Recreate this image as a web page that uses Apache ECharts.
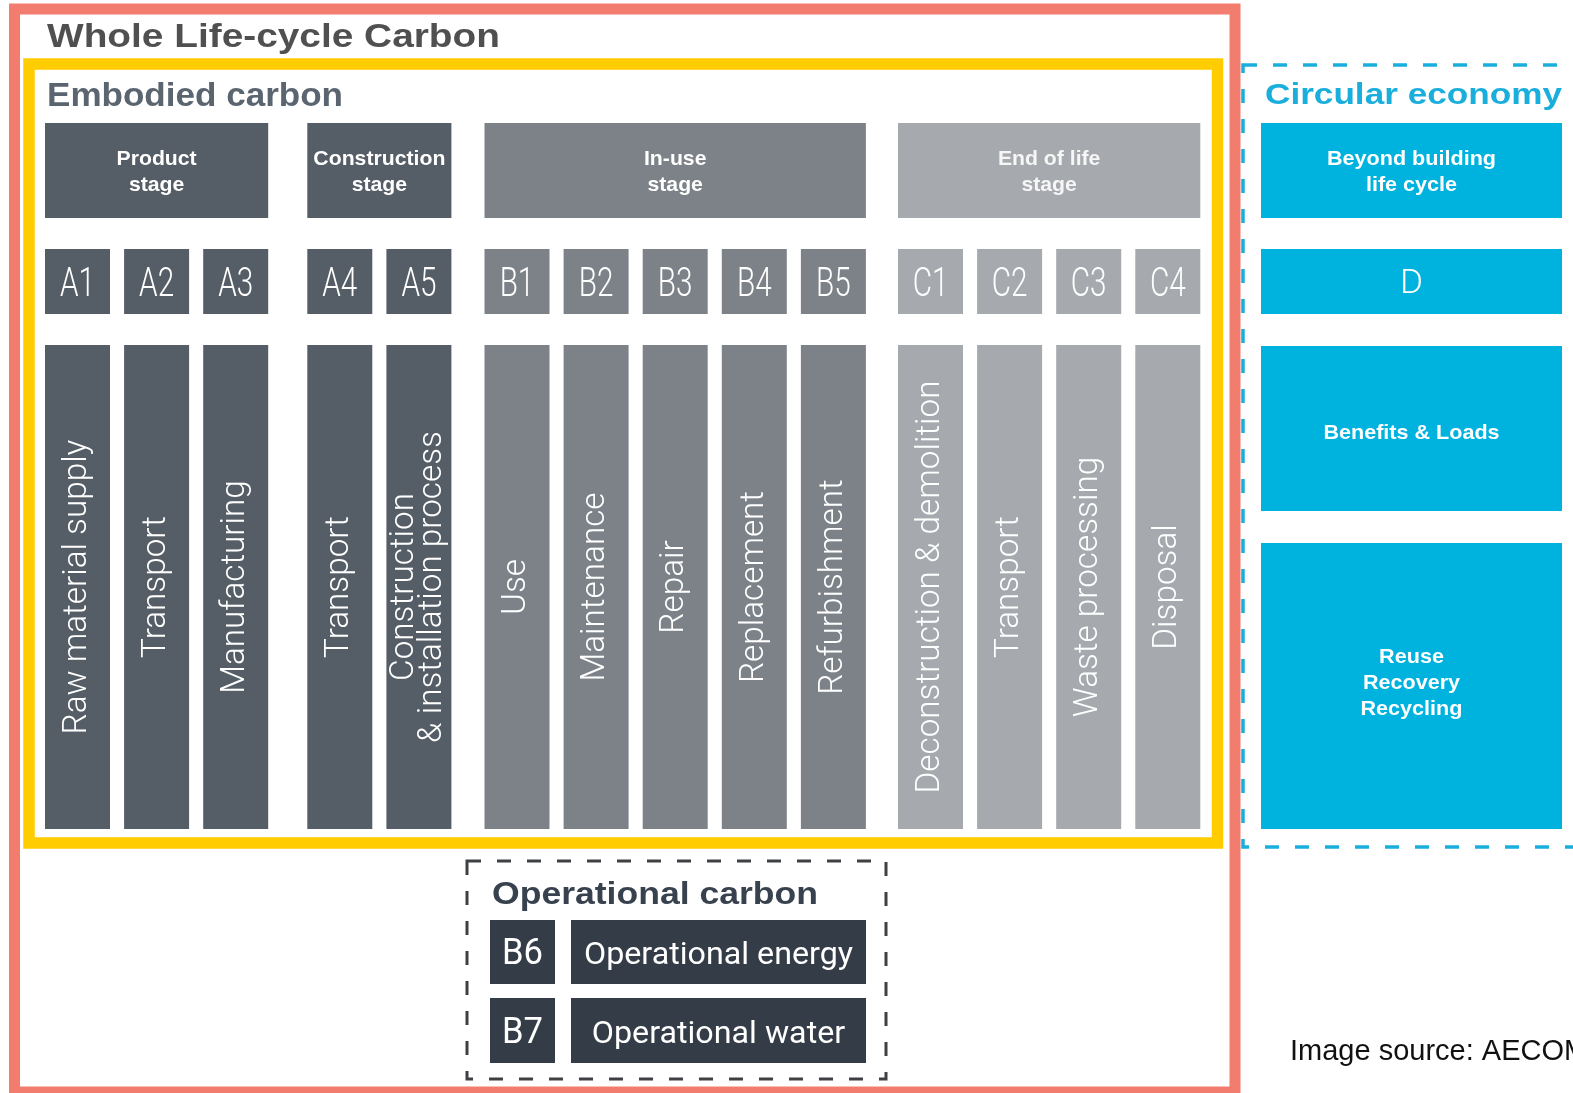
<!DOCTYPE html>
<html>
<head>
<meta charset="utf-8">
<script src="https://cdn.jsdelivr.net/npm/echarts@6/dist/echarts.min.js"></script>
<style>
html,body{margin:0;padding:0;background:#ffffff;overflow:hidden}
#chart{width:1573px;height:1093px}
</style>
</head>
<body>
<div id="chart"></div>
<script>
// ---------------- data ----------------
const stageNames = ['Product\nstage', 'Construction\nstage', 'In-use\nstage', 'End of life\nstage'];
const moduleCodes = ['A1','A2','A3','A4','A5','B1','B2','B3','B4','B5','C1','C2','C3','C4'];
const moduleStage = [0,0,0,1,1,2,2,2,2,2,3,3,3,3];
const moduleNames = ['Raw material supply','Transport','Manufacturing','Transport',
  'Construction\n& installation process','Use','Maintenance','Repair','Replacement',
  'Refurbishment','Deconstruction & demolition','Transport','Waste processing','Disposal'];
const circularLabels = ['Beyond building\nlife cycle', 'D', 'Benefits & Loads', 'Reuse\nRecovery\nRecycling'];
const operationalCodes = ['B6', 'B7'];
const operationalNames = ['Operational energy', 'Operational water'];
const frameTitles = ['Whole Life-cycle Carbon', 'Embodied carbon', 'Circular economy', 'Operational carbon'];
const sourceNote = 'Image source: AECOM';

// ---------------- layout & style ----------------
const W = 1573, H = 1093;
const colX0 = 45, colPitch = 79.1, colW = 65;
const stageOffset = [0, 25, 44, 62];
const rowHeader = [123, 218], rowCode = [249, 314], rowName = [345, 829];
const circX = [1261, 1562];
const circRows = [[123, 218], [249, 314], [346, 511], [543, 829]];
const circDy = [2, 3, 5, -3];
const opCodeX = [490, 555], opNameX = [571, 866];
const opRows = [[920, 984], [998, 1063]];
const stageColors = ['#555D66', '#555D66', '#7D8289', '#A6A9AD'];
const cyan = '#00B2DE';
const opColor = '#343D47';

const frames = [
  {r: [14.5, 9, 1235, 1092], color: '#F27C6E', lw: 11, dash: null},
  {r: [29, 64, 1217.5, 843], color: '#FFCC00', lw: 11.5, dash: null},
  {r: [1243, 65, 1650, 847], color: '#1AAEDC', lw: 3.5, dash: [14, 16]},
  {r: [467, 861, 886, 1079], color: '#3E4044', lw: 3, dash: [14, 16]}
];
const titleStyles = [
  {x: 47, y: 38, font: 'bold 34px "Liberation Sans"', color: '#505050', w: 453},
  {x: 47, y: 97, font: 'bold 33px "Liberation Sans"', color: '#5B6570', w: 296},
  {x: 1265, y: 96, font: 'bold 30px "Liberation Sans"', color: '#1AAEDC', w: 297},
  {x: 492, y: 895, font: 'bold 32px "Liberation Sans"', color: '#38424E', w: 326}
];

const F_HEAD = 'bold 21px "Liberation Sans"';
const F_CODE = '300 40px Roboto';
const F_NAME = '300 33px Roboto';
const F_OPN = '32px Roboto';
const F_OPC = '36px Roboto';
const F_D = '300 33px Roboto';
const F_SRC = '29px "Liberation Sans"';

const mctx = document.createElement('canvas').getContext('2d');
function fit(text, font, target) {
  mctx.font = font;
  const w = Math.max.apply(null, text.split('\n').map(t => mctx.measureText(t).width));
  return target / w;
}
const sHead = fit('Construction', F_HEAD, 132);
const sCirc = fit('Beyond building', F_HEAD, 169);
const sCode = fit('A1', F_CODE, 35);
const sName = fit('Deconstruction & demolition', F_NAME, 413);
const sOpN = fit('Operational energy', F_OPN, 269);
const sOpC = fit('B6', F_OPC, 41);
const sD = fit('D', F_D, 23);

function colLeft(i) { return colX0 + i * colPitch + stageOffset[moduleStage[i]]; }

function rectShape(api, x0, y0, x1, y1) {
  const p0 = api.coord([x0, y0]), p1 = api.coord([x1, y1]);
  return {x: p0[0], y: p0[1], width: p1[0] - p0[0], height: p1[1] - p0[1]};
}
function box(api, x0, y0, x1, y1, fill) {
  return {type: 'rect', shape: rectShape(api, x0, y0, x1, y1), style: {fill: fill}};
}
function label(api, cx, cy, text, font, fill, o) {
  o = o || {};
  const p = api.coord([cx, cy]);
  const al = o.align || 'center';
  return {
    type: 'text', x: p[0], y: p[1], rotation: o.rot || 0, scaleX: o.sx || 1,
    style: {text: text, font: font, fill: fill, align: al, textAlign: al,
      verticalAlign: 'middle', textVerticalAlign: 'middle', lineHeight: o.lh || undefined}
  };
}
const idx = arr => arr.map((_, i) => [i, 0]);

const series = [
  { // frames
    type: 'custom', name: 'frames', z: 1, data: idx(frames),
    renderItem: (params, api) => {
      const f = frames[params.dataIndex];
      return {type: 'rect', shape: rectShape(api, f.r[0], f.r[1], f.r[2], f.r[3]),
        style: {fill: null, stroke: f.color, lineWidth: f.lw, lineDash: f.dash || null}};
    }
  },
  { // stage headers
    type: 'custom', name: 'stages', z: 2, data: idx(stageNames),
    renderItem: (params, api) => {
      const s = params.dataIndex;
      const ids = moduleStage.map((st, i) => st === s ? i : -1).filter(i => i >= 0);
      const x0 = colLeft(ids[0]), x1 = colLeft(ids[ids.length - 1]) + colW;
      return {type: 'group', children: [
        box(api, x0, rowHeader[0], x1, rowHeader[1], stageColors[s]),
        label(api, (x0 + x1) / 2, (rowHeader[0] + rowHeader[1]) / 2 + 2, stageNames[s], F_HEAD,
          s === 3 ? '#F6F6F6' : '#FFFFFF', {sx: sHead, lh: 26})
      ]};
    }
  },
  { // module codes
    type: 'custom', name: 'codes', z: 2, data: idx(moduleCodes),
    renderItem: (params, api) => {
      const i = params.dataIndex, x0 = colLeft(i), s = moduleStage[i];
      return {type: 'group', children: [
        box(api, x0, rowCode[0], x0 + colW, rowCode[1], stageColors[s]),
        label(api, x0 + colW / 2, (rowCode[0] + rowCode[1]) / 2 + 4, moduleCodes[i], F_CODE,
          '#FFFFFF', {sx: sCode})
      ]};
    }
  },
  { // module names (vertical)
    type: 'custom', name: 'names', z: 2, data: idx(moduleNames),
    renderItem: (params, api) => {
      const i = params.dataIndex, x0 = colLeft(i), s = moduleStage[i];
      return {type: 'group', children: [
        box(api, x0, rowName[0], x0 + colW, rowName[1], stageColors[s]),
        label(api, x0 + colW / 2, (rowName[0] + rowName[1]) / 2, moduleNames[i], F_NAME,
          '#FFFFFF', {sx: sName, rot: Math.PI / 2, lh: 28})
      ]};
    }
  },
  { // circular economy
    type: 'custom', name: 'circular', z: 2, data: idx(circularLabels),
    renderItem: (params, api) => {
      const i = params.dataIndex, r = circRows[i];
      const isD = circularLabels[i] === 'D';
      return {type: 'group', children: [
        box(api, circX[0], r[0], circX[1], r[1], cyan),
        label(api, (circX[0] + circX[1]) / 2, (r[0] + r[1]) / 2 + circDy[i], circularLabels[i],
          isD ? F_D : F_HEAD, '#FFFFFF', {sx: isD ? sD : sCirc, lh: 26})
      ]};
    }
  },
  { // operational carbon
    type: 'custom', name: 'operational', z: 2, data: idx(operationalCodes),
    renderItem: (params, api) => {
      const i = params.dataIndex, r = opRows[i], cy = (r[0] + r[1]) / 2;
      return {type: 'group', children: [
        box(api, opCodeX[0], r[0], opCodeX[1], r[1], opColor),
        box(api, opNameX[0], r[0], opNameX[1], r[1], opColor),
        label(api, (opCodeX[0] + opCodeX[1]) / 2, cy + 3, operationalCodes[i], F_OPC, '#FFFFFF', {sx: sOpC}),
        label(api, (opNameX[0] + opNameX[1]) / 2, cy + 4, operationalNames[i], F_OPN, '#FFFFFF', {sx: sOpN})
      ]};
    }
  },
  { // titles
    type: 'custom', name: 'titles', z: 3, data: idx(frameTitles),
    renderItem: (params, api) => {
      const i = params.dataIndex, t = titleStyles[i];
      return label(api, t.x, t.y, frameTitles[i], t.font, t.color,
        {align: 'left', sx: fit(frameTitles[i], t.font, t.w)});
    }
  },
  { // source note
    type: 'custom', name: 'source', z: 3, data: [[0, 0]],
    renderItem: (params, api) => label(api, 1290, 1052, sourceNote, F_SRC, '#111111', {align: 'left'})
  }
];

const chart = echarts.init(document.getElementById('chart'), null, {renderer: 'canvas'});
chart.setOption({
  backgroundColor: '#ffffff',
  animation: false,
  grid: {left: 0, right: 0, top: 0, bottom: 0, containLabel: false},
  xAxis: {type: 'value', min: 0, max: W, show: false},
  yAxis: {type: 'value', min: 0, max: H, inverse: true, show: false},
  tooltip: {show: false},
  series: series.map(s => Object.assign({silent: true, clip: false}, s))
});
</script>
</body>
</html>
